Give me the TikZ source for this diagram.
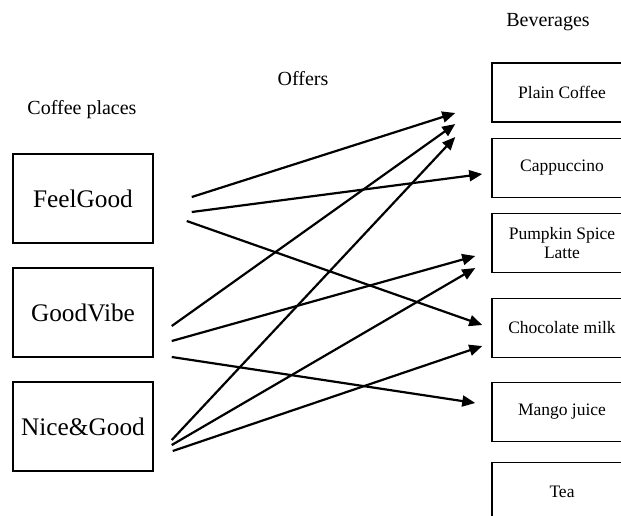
\documentclass[tikz,border=0pt]{standalone}
\usepackage{fontspec}
\setmainfont{Liberation Serif}
\usetikzlibrary{arrows.meta,calc}
\tikzset{
  place/.style={draw=black,line width=1.5pt,minimum width=140pt,minimum height=89pt,inner sep=0pt,font=\fontsize{25.3}{29}\selectfont},
  bev/.style={draw=black,line width=1.5pt,minimum width=140pt,minimum height=59pt,inner sep=0pt,align=center,font=\fontsize{17.5}{20}\selectfont},
  head/.style={font=\fontsize{20}{23}\selectfont,inner sep=0pt},
  link/.style={line width=2.2pt,-{Triangle[length=13pt,width=11pt]}}
}
\begin{document}
\begin{tikzpicture}[x=1pt,y=-1pt]
\useasboundingbox (0,0) rectangle (621,515);
\node[head] (hcp) at (82,110) {Coffee places};
\node[head] (hof) at (303,79) {Offers};
\node[head] (hbv) at (548,22) {Beverages};
\node[place] (fg) at (83,198.5) {FeelGood};
\node[place] (gv) at (83,312.5) {GoodVibe};
\node[place] (ng) at (83,426.5) {Nice\&Good};
\node[bev] (pc) at (562,92.5) {Plain Coffee};
\node[bev] (ca) at (562,168) {Cappuccino};
\node[bev] (ps) at (562,243) {Pumpkin Spice\\[-1pt]Latte};
\node[bev] (cm) at (562,328) {Chocolate milk};
\node[bev] (mj) at (562,412) {Mango juice};
\node[bev] (te) at (562,492) {Tea};
% FeelGood
\draw[link] ($(fg.east)+(38,-1.5)$) -- ($(pc.west)+(-36,20.5)$);
\draw[link] ($(fg.east)+(38,13.5)$) -- ($(ca.west)+(-9,6)$);
\draw[link] ($(fg.east)+(33,22.5)$) -- ($(cm.west)+(-9,-3)$);
% GoodVibe
\draw[link] ($(gv.east)+(18,13.5)$) -- ($(pc.west)+(-36,31.5)$);
\draw[link] ($(gv.east)+(18,28.5)$) -- ($(ps.west)+(-16,13)$);
\draw[link] ($(gv.east)+(18,44.5)$) -- ($(mj.west)+(-16,-9)$);
% Nice&Good
\draw[link] ($(ng.east)+(18,13.5)$) -- ($(pc.west)+(-36,44.5)$);
\draw[link] ($(ng.east)+(18,18.5)$) -- ($(ps.west)+(-16,25)$);
\draw[link] ($(ng.east)+(19,24.5)$) -- ($(cm.west)+(-9,18)$);
\end{tikzpicture}
\end{document}
